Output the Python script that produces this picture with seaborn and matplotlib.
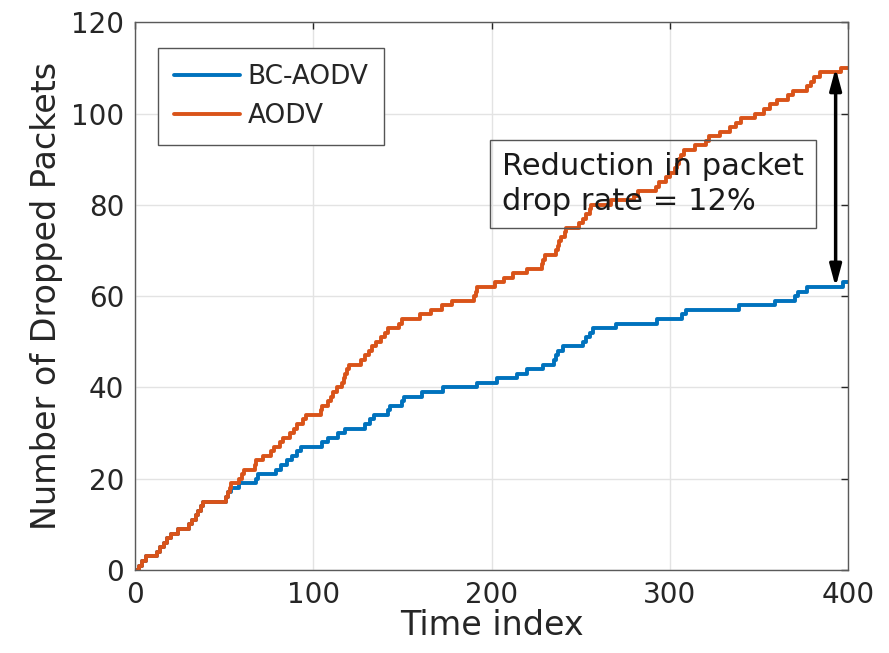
import matplotlib
matplotlib.use('Agg')
import matplotlib.pyplot as plt
import seaborn as sns
import numpy as np
import pandas as pd

# step break points: (time index, cumulative dropped packets)
aodv_t = [0, 2, 4, 6, 12, 14, 16, 18, 20, 24, 30, 32, 34, 35, 37, 38, 51, 52, 53, 54,
          58, 60, 61, 67, 68, 72, 76, 78, 81, 83, 87, 89, 91, 94, 96, 104, 105, 108, 110, 111,
          113, 116, 117, 118, 119, 120, 127, 129, 131, 133, 135, 138, 140, 142, 148, 150, 160, 166, 172, 178,
          190, 191, 192, 202, 207, 212, 220, 228, 229, 230, 236, 237, 238, 239, 241, 242, 249, 251, 253, 255,
          256, 267, 280, 282, 292, 294, 298, 300, 303, 304, 305, 306, 308, 314, 320, 322, 328, 334, 337, 340,
          348, 353, 356, 360, 366, 369, 377, 379, 381, 384, 396, 400]
aodv_n = [0, 1, 2, 3, 4, 5, 6, 7, 8, 9, 10, 11, 12, 13, 14, 15, 16, 17, 18, 19,
          20, 21, 22, 23, 24, 25, 26, 27, 28, 29, 30, 31, 32, 33, 34, 35, 36, 37, 38, 39,
          40, 41, 42, 43, 44, 45, 46, 47, 48, 49, 50, 51, 52, 53, 54, 55, 56, 57, 58, 59,
          60, 61, 62, 63, 64, 65, 66, 67, 68, 69, 70, 71, 72, 73, 74, 75, 76, 77, 78, 79,
          80, 81, 82, 83, 84, 85, 86, 87, 88, 89, 90, 91, 92, 93, 94, 95, 96, 97, 98, 99,
          100, 101, 102, 103, 104, 105, 106, 107, 108, 109, 110, 110]

bc_t = [0, 2, 4, 6, 12, 14, 16, 18, 20, 24, 30, 32, 34, 35, 37, 38, 51, 52, 54, 58,
        68, 69, 79, 82, 85, 88, 91, 93, 105, 108, 114, 118, 129, 132, 134, 142, 143, 150, 151, 161,
        173, 192, 203, 214, 220, 229, 235, 236, 237, 240, 251, 253, 255, 257, 270, 293, 307, 309, 339, 359,
        370, 372, 377, 397, 400]
bc_n = [0, 1, 2, 3, 4, 5, 6, 7, 8, 9, 10, 11, 12, 13, 14, 15, 16, 17, 18, 19,
        20, 21, 22, 23, 24, 25, 26, 27, 28, 29, 30, 31, 32, 33, 34, 35, 36, 37, 38, 39,
        40, 41, 42, 43, 44, 45, 46, 47, 48, 49, 50, 51, 52, 53, 54, 55, 56, 57, 58, 59,
        60, 61, 62, 63, 63]

df = pd.concat([
    pd.DataFrame({'t': bc_t, 'n': bc_n, 'scheme': 'BC-AODV'}),
    pd.DataFrame({'t': aodv_t, 'n': aodv_n, 'scheme': 'AODV'}),
])

sns.set_style('whitegrid')
plt.rcParams['font.family'] = ['DejaVu Sans']

fig = plt.figure(figsize=(8.89, 6.53), dpi=100)
ax = fig.add_axes([0.152, 0.127, 0.802, 0.839])

sns.lineplot(data=df, x='t', y='n', hue='scheme', palette=['#0072BD', '#D95319'],
             estimator=None, sort=False, drawstyle='steps-post', linewidth=2.8, ax=ax)

ax.set_xlim(0, 400)
ax.set_ylim(0, 120)
ax.set_xticks([0, 100, 200, 300, 400])
ax.set_yticks([0, 20, 40, 60, 80, 100, 120])
ax.tick_params(direction='in', top=True, right=True, length=5, width=1,
               labelsize=20, colors='#262626', pad=8)
ax.grid(True, color='#e3e3e3', linewidth=1)
for s in ax.spines.values():
    s.set_color('#5a5a5a')
    s.set_linewidth(1)

ax.set_xlabel('Time index', fontsize=24, color='#262626', labelpad=0)
ax.set_ylabel('Number of Dropped Packets', fontsize=24, color='#262626', labelpad=6)

leg = ax.legend(loc='upper left', bbox_to_anchor=(0.032, 0.953), borderaxespad=0,
                fontsize=19, frameon=True, fancybox=False, edgecolor='#555555',
                framealpha=1, handlelength=2.5, borderpad=0.6, labelspacing=0.5,
                handletextpad=0.3)
leg.get_frame().set_linewidth(1)

ax.text(206, 84.5, 'Reduction in packet\ndrop rate = 12%', fontsize=22, color='#1a1a1a',
        ha='left', va='center', linespacing=1.25,
        bbox=dict(boxstyle='square,pad=0.4', facecolor='none', edgecolor='#555555', linewidth=1))

ax.annotate('', xy=(393, 110), xytext=(393, 62),
            arrowprops=dict(arrowstyle='<|-|>,head_length=1.3,head_width=0.35',
                            color='black', lw=2.5, shrinkA=0, shrinkB=0))

fig.savefig('out.png', dpi=100)
